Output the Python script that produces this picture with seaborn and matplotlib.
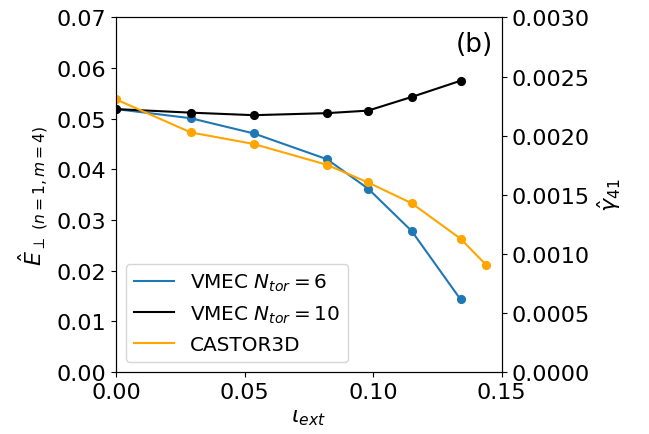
import numpy as np
import pandas as pd
import matplotlib
matplotlib.use("Agg")
import matplotlib.pyplot as plt
import seaborn as sns
from matplotlib.lines import Line2D

# Data
x_vmec = [0.0, 0.029, 0.0535, 0.082, 0.098, 0.115, 0.134]
e_ntor6 = [0.0519, 0.0501, 0.0471, 0.0420, 0.0362, 0.0278, 0.0143]
e_ntor10 = [0.0519, 0.0512, 0.0507, 0.0511, 0.0516, 0.0543, 0.0575]
x_castor = [0.0, 0.029, 0.0535, 0.082, 0.098, 0.115, 0.134, 0.144]
gamma_castor = [0.002306, 0.002027, 0.001929, 0.001753, 0.001603, 0.001427, 0.001127, 0.000904]

x_ticks = [0.00, 0.05, 0.10, 0.15]
y_ticks_left = [0.00, 0.01, 0.02, 0.03, 0.04, 0.05, 0.06, 0.07]
y_ticks_right = [0.0000, 0.0005, 0.0010, 0.0015, 0.0020, 0.0025, 0.0030]

plt.rcParams['font.family'] = ['DejaVu Sans']
fig = plt.figure(figsize=(6.49, 4.35), dpi=100)
ax = fig.add_axes([0.179, 0.143, 0.594, 0.8145])

df6 = pd.DataFrame({"x": x_vmec, "y": e_ntor6})
df10 = pd.DataFrame({"x": x_vmec, "y": e_ntor10})
dfc = pd.DataFrame({"x": x_castor, "y": gamma_castor})

sns.lineplot(data=df6, x="x", y="y", ax=ax, color="#1f77b4", marker="o",
             markersize=6.6, markeredgewidth=0, linewidth=1.5, estimator=None, sort=False,
             label=r"VMEC $N_{tor}=6$", legend=False)
sns.lineplot(data=df10, x="x", y="y", ax=ax, color="black", marker="o",
             markersize=6.6, markeredgewidth=0, linewidth=1.5, estimator=None, sort=False,
             label=r"VMEC $N_{tor}=10$", legend=False)

ax2 = ax.twinx()
sns.lineplot(data=dfc, x="x", y="y", ax=ax2, color="orange", marker="o",
             markersize=6.6, markeredgewidth=0, linewidth=1.5, estimator=None, sort=False,
             label="CASTOR3D", legend=False)

ax.set_xlim(0, 0.15)
ax.set_ylim(0, 0.07)
ax2.set_ylim(0, 0.003)
ax.set_xticks(x_ticks)
ax.set_xticklabels([f"{v:.2f}" for v in x_ticks])
ax.set_yticks(y_ticks_left)
ax.set_yticklabels([f"{v:.2f}" for v in y_ticks_left])
ax2.set_yticks(y_ticks_right)
ax2.set_yticklabels([f"{v:.4f}" for v in y_ticks_right])

ax.tick_params(labelsize=16)
ax2.tick_params(labelsize=16)

ax.set_xlabel(r"$\iota_{ext}$", fontsize=16)
ax.set_ylabel(r"$\hat{E}_{\perp\ (n=1, m=4)}$", fontsize=16)
ax2.set_ylabel(r"$\hat{\gamma}_{41}$", fontsize=16)

ax2.text(0.978, 0.962, "(b)", transform=ax.transAxes, ha="right", va="top", fontsize=19)

handles = [Line2D([], [], color="#1f77b4", lw=1.5),
           Line2D([], [], color="black", lw=1.5),
           Line2D([], [], color="orange", lw=1.5)]
labels = [r"VMEC $N_{tor}=6$", r"VMEC $N_{tor}=10$", "CASTOR3D"]
ax2.legend(handles, labels, loc="lower left", fontsize=14.4)

fig.savefig("out.png", dpi=100)
